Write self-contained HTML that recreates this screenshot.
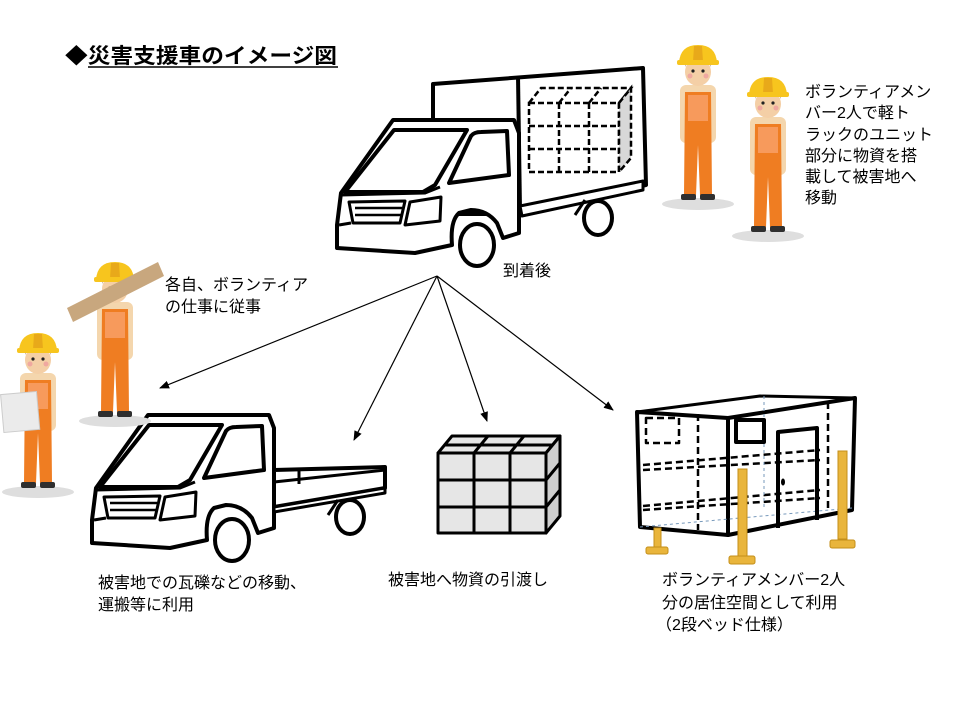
<!DOCTYPE html>
<html><head><meta charset="utf-8"><style>
html,body{margin:0;padding:0;background:#fff;}
svg{display:block;}
text{font-family:"Liberation Sans","Noto Sans CJK JP",sans-serif;fill:#000;}
</style></head><body>
<svg width="956" height="718" viewBox="0 0 956 718" xmlns="http://www.w3.org/2000/svg">
<defs>
<g id="worker">
  <ellipse cx="0" cy="159" rx="36" ry="6" fill="#dedede"/>
  <rect x="-18" y="40" width="36" height="58" rx="6" fill="#f4d6ad"/>
  <path d="M-13,47 L13,47 L14,150 L2,150 L0,100 L-2,150 L-14,150 Z" fill="#ef7d22"/>
  <rect x="-10" y="50" width="20" height="26" fill="#f79a5c"/>
  <rect x="-17" y="149" width="15" height="6" rx="2" fill="#2f2f2f"/>
  <rect x="2" y="149" width="15" height="6" rx="2" fill="#2f2f2f"/>
  <ellipse cx="0" cy="27" rx="13" ry="14" fill="#f4cfa6"/>
  <path d="M-13,22 Q-12,14 0,14 Q12,14 13,22 L13,18 L-13,18Z" fill="#7a4a2a"/>
  <circle cx="-5" cy="26" r="1.6" fill="#222"/><circle cx="5" cy="26" r="1.6" fill="#222"/>
  <circle cx="-8" cy="31" r="2.5" fill="#f0a8a0"/><circle cx="8" cy="31" r="2.5" fill="#f0a8a0"/>
  <path d="M-19,18 Q-18,0 0,0 Q18,0 19,18 Z" fill="#f7c51e"/>
  <path d="M-4,1 L4,1 L5,17 L-5,17Z" fill="#e8a91a"/>
  <rect x="-21" y="15" width="42" height="5" rx="2" fill="#f7c51e"/>
</g>
</defs>

<!-- Title -->
<text x="65" y="63" font-size="21" font-weight="bold" textLength="272" lengthAdjust="spacingAndGlyphs">◆災害支援車のイメージ図</text>
<line x1="88" y1="67" x2="338" y2="67" stroke="#000" stroke-width="1.5"/>

<!-- Workers top right -->
<use href="#worker" x="698" y="45"/>
<use href="#worker" x="768" y="77"/>

<!-- Right text -->
<g font-size="16">
<text x="805" y="97">ボランティアメン</text>
<text x="805" y="118">バー2人で軽ト</text>
<text x="805" y="140">ラックのユニット</text>
<text x="805" y="161">部分に物資を搭</text>
<text x="805" y="182">載して被害地へ</text>
<text x="805" y="203">移動</text>
</g>

<!-- Top truck: box -->
<g stroke="#000" stroke-width="4" fill="#fff" stroke-linejoin="round">
  <polygon points="433,84 643,68 646,185 520,214 433,214"/>
  <line x1="518" y1="76" x2="520" y2="210"/>
  <polygon points="520,206 643,181 643,190 522,216" fill="#fff" stroke-width="3"/>
</g>
<g stroke="#000" stroke-width="2.5" fill="none" stroke-dasharray="6,3">
  <rect x="529" y="103" width="90" height="69" fill="#fff"/>
  <line x1="559" y1="103" x2="559" y2="172"/><line x1="589" y1="103" x2="589" y2="172"/>
  <line x1="529" y1="126" x2="619" y2="126"/><line x1="529" y1="149" x2="619" y2="149"/>
  <polyline points="529,103 541,88 631,88 619,103"/>
  <line x1="559" y1="103" x2="571" y2="88"/><line x1="589" y1="103" x2="601" y2="88"/>
  <polygon points="619,103 631,88 631,158 619,172" fill="#d8d8d8"/>
</g>

<!-- Truck cab -->
<g id="cab" stroke="#000" stroke-width="4" fill="#fff" stroke-linejoin="round">
  <path d="M92,520 L96,488 L148,415 L269,415 L274,428 L274,528 L258,533 L252,518 Q242,505 226,505 L214,508 Q205,516 207,540 L170,548 L92,543 Z"/>
  <path d="M100,487 L149,425 L222,425 L190,480 L178,487 Z" fill="none"/>
  <path d="M204,478 L226,431 Q229,427 236,427 L262,426 L264,470 Z"/>
  <path d="M96,490 L180,488 L195,482" fill="none" stroke-width="3"/>
  <polygon points="104,497 160,496 155,518 108,518" stroke-width="3"/>
  <line x1="110" y1="503" x2="157" y2="503" stroke-width="2.5"/>
  <line x1="110" y1="510" x2="156" y2="510" stroke-width="2.5"/>
  <polygon points="165,497 196,492 195,516 160,520" stroke-width="3"/>
  <line x1="94" y1="520" x2="106" y2="518" stroke-width="3"/>
  <ellipse cx="232" cy="540" rx="17" ry="21"/>
</g>
<use href="#cab" x="245" y="-295"/>
<g stroke="#000" stroke-width="4" fill="#fff">
  <path d="M575,215 L585,200 M585,215 L595,203" stroke-width="3"/>
  <ellipse cx="598" cy="218" rx="14" ry="17"/>
</g>

<!-- Bottom truck bed -->
<g stroke="#000" stroke-width="4" fill="#fff" stroke-linejoin="round">
  <polygon points="274,470 385,467 385,488 274,507"/>
  <line x1="274" y1="482" x2="385" y2="470" stroke-width="3"/>
  <line x1="299" y1="469" x2="299" y2="484" stroke-width="3"/>
  <polygon points="274,507 385,488 385,493 274,512" stroke-width="3"/>
  <path d="M328,515 L338,500 M336,515 L346,502" stroke-width="3"/>
  <ellipse cx="350" cy="517" rx="14" ry="17"/>
</g>

<!-- Left workers -->
<use href="#worker" x="38" y="333"/>
<rect x="2" y="393" width="36" height="38" fill="#ebebeb" stroke="#ccc" stroke-width="1" transform="rotate(-5 20 410)"/>
<use href="#worker" x="115" y="262"/>
<polygon points="67,308 158,262 164,276 73,322" fill="#c8a77e"/>

<g font-size="16">
<text x="165" y="290">各自、ボランティア</text>
<text x="165" y="312">の仕事に従事</text>
<text x="503" y="276">到着後</text>
</g>

<!-- Arrows -->
<defs><marker id="ar" markerWidth="10" markerHeight="8" refX="9" refY="4" orient="auto" markerUnits="userSpaceOnUse"><path d="M0,0 L10,4 L0,8 Z" fill="#000"/></marker></defs>
<g stroke="#000" stroke-width="1.2" marker-end="url(#ar)">
  <line x1="437" y1="276" x2="160" y2="388"/>
  <line x1="437" y1="276" x2="354" y2="440"/>
  <line x1="437" y1="276" x2="487" y2="421"/>
  <line x1="437" y1="276" x2="613" y2="410"/>
</g>

<!-- Boxes -->
<g stroke="#000" stroke-width="3" fill="#e6e6e6" stroke-linejoin="round">
  <polygon points="438,453 452,436 560,436 546,453"/>
  <line x1="474" y1="453" x2="488" y2="436"/><line x1="510" y1="453" x2="524" y2="436"/>
  <line x1="445" y1="445" x2="553" y2="445"/>
  <polygon points="546,453 560,436 560,516 546,533" fill="#cfcfcf"/>
  <line x1="546" y1="480" x2="560" y2="463"/><line x1="546" y1="507" x2="560" y2="490"/>
  <rect x="438" y="453" width="108" height="80"/>
  <line x1="474" y1="453" x2="474" y2="533"/><line x1="510" y1="453" x2="510" y2="533"/>
  <line x1="438" y1="480" x2="546" y2="480"/><line x1="438" y1="507" x2="546" y2="507"/>
</g>

<!-- Unit -->
<g stroke="#000" stroke-linejoin="round">
  <polygon points="637,412 760,396 855,398 728,418" fill="#fff" stroke-width="3"/>
  <polygon points="637,412 728,418 728,535 640,527" fill="#fff" stroke-width="4"/>
  <polygon points="728,418 855,398 852,510 728,535" fill="#fff" stroke-width="4"/>
  <g stroke-width="2.5" fill="none" stroke-dasharray="7,4">
    <rect x="646" y="418" width="33" height="25"/>
    <line x1="698" y1="414" x2="698" y2="530"/>
    <line x1="828" y1="402" x2="828" y2="512"/>
    <path d="M643,465 L820,450 M643,470 L820,460"/>
    <path d="M643,506 L820,490 M643,510 L820,498"/>
  </g>
  <path d="M640,527 L852,508" stroke="#7799bb" stroke-width="1" stroke-dasharray="3,3"/>
  <line x1="764" y1="396" x2="764" y2="510" stroke="#7799bb" stroke-width="1" stroke-dasharray="3,3"/>
  <rect x="736" y="420" width="28" height="22" fill="none" stroke-width="4"/>
  <path d="M778,528 L778,432 L817,428 L817,520" fill="none" stroke-width="4"/>
  <ellipse cx="783" cy="482" rx="1.5" ry="3" fill="#000"/>
</g>
<g fill="#e9b53c" stroke="#c48f1a" stroke-width="1">
  <rect x="654" y="528" width="7" height="22"/><rect x="646" y="547" width="22" height="7" rx="2"/>
  <rect x="738" y="469" width="9" height="88"/><rect x="729" y="556" width="26" height="8" rx="2"/>
  <rect x="838" y="451" width="9" height="88"/><rect x="830" y="540" width="25" height="8" rx="2"/>
</g>

<g font-size="16">
<text x="98" y="588">被害地での瓦礫などの移動、</text>
<text x="98" y="610">運搬等に利用</text>
<text x="388" y="585">被害地へ物資の引渡し</text>
<text x="662" y="585">ボランティアメンバー2人</text>
<text x="662" y="608">分の居住空間として利用</text>
<text x="656" y="630">（2段ベッド仕様）</text>
</g>
</svg>
</body></html>
